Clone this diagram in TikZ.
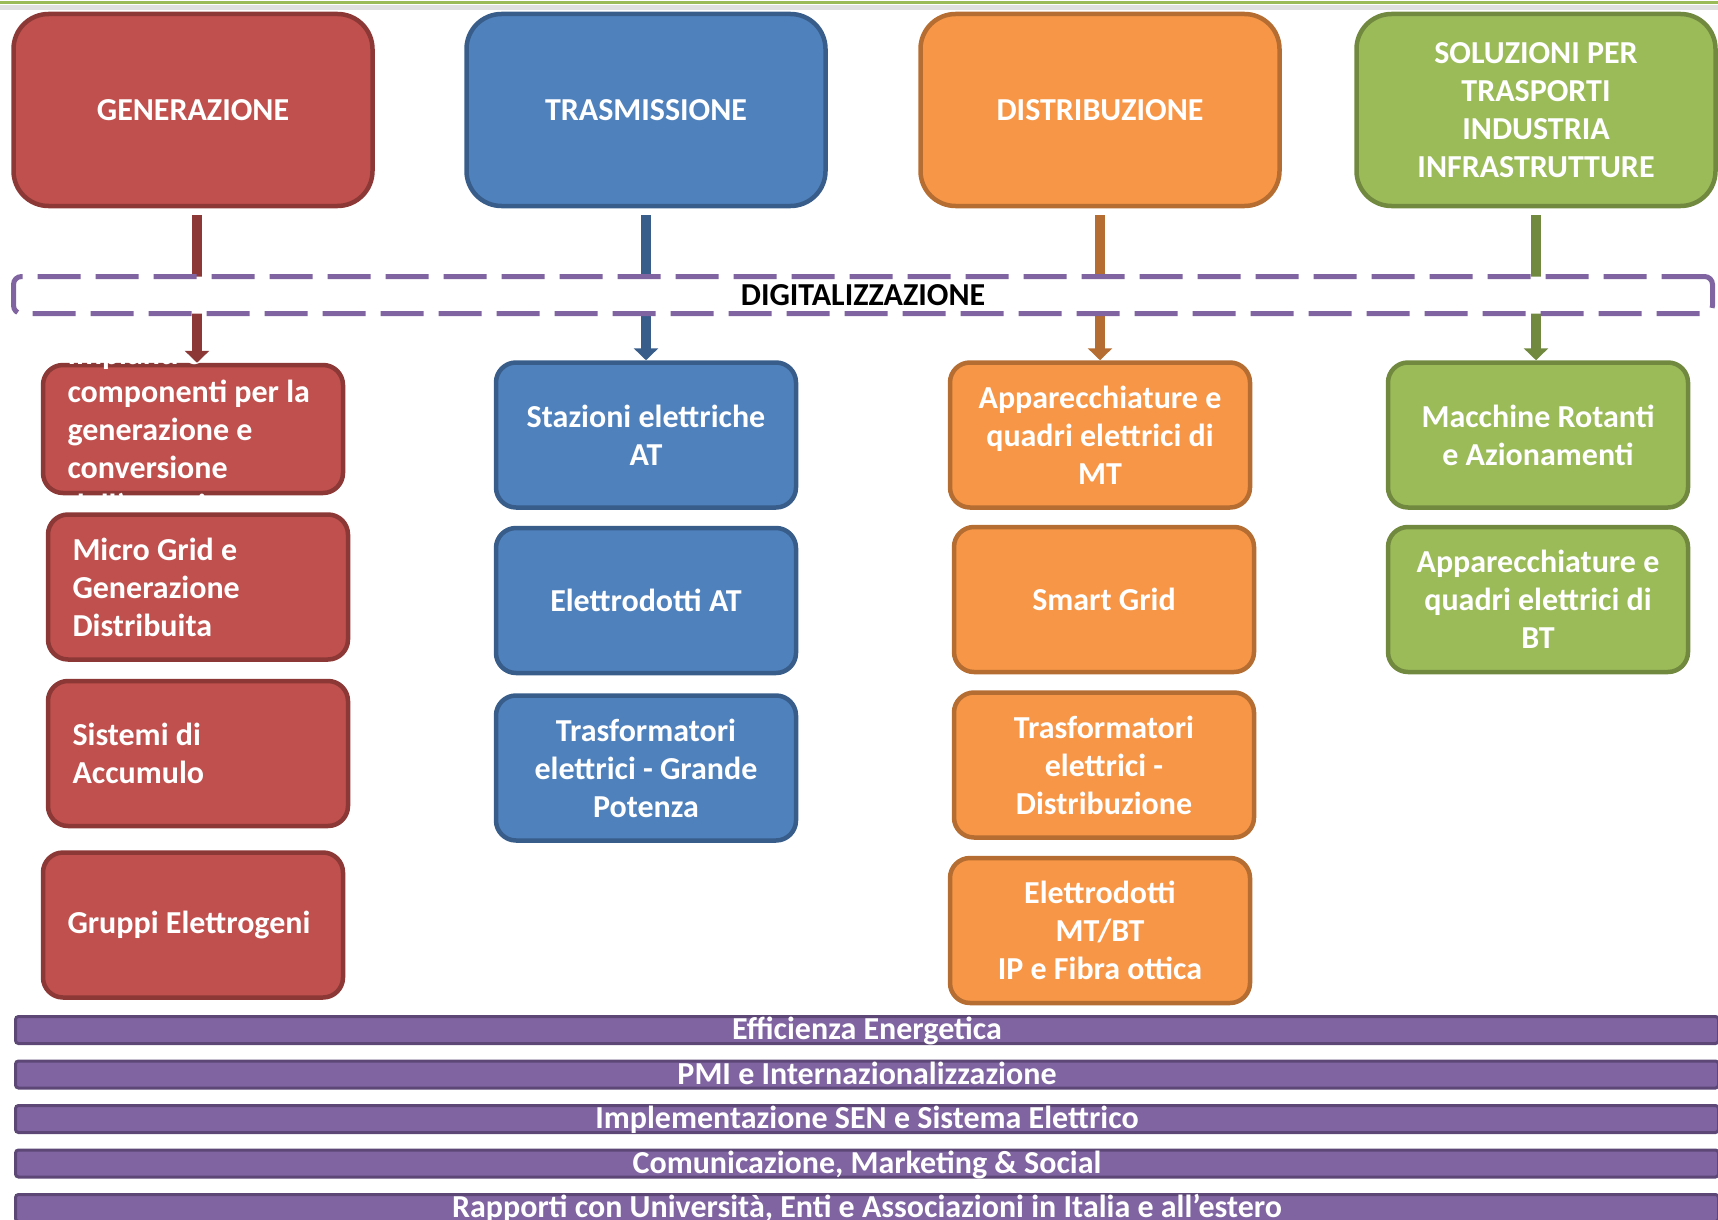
\documentclass[tikz,border=0pt]{standalone}
\usepackage{fontspec}
\setmainfont{Carlito}
\usetikzlibrary{positioning,arrows.meta}

\definecolor{genfill}{HTML}{C0504D}
\definecolor{genline}{HTML}{8C3836}
\definecolor{trafill}{HTML}{4F81BD}
\definecolor{traline}{HTML}{385D8A}
\definecolor{disfill}{HTML}{F79646}
\definecolor{disline}{HTML}{B66D31}
\definecolor{solfill}{HTML}{9BBB59}
\definecolor{solline}{HTML}{71893F}
\definecolor{viofill}{HTML}{8064A2}
\definecolor{violine}{HTML}{5C4776}

\tikzset{
  boxfont/.style={font=\bfseries\fontsize{32}{38}\selectfont},
  hdr/.style={rectangle,rounded corners=35pt,line width=4.5pt,minimum width=359pt,
    minimum height=192pt,text=white,align=center,boxfont},
  subbox/.style={rectangle,rounded corners=20pt,line width=4.5pt,minimum width=300pt,
    minimum height=145pt,text=white,align=center,boxfont},
  leftbox/.style={subbox,text width=251pt,align=flush left},
  gencol/.style={fill=genfill,draw=genline},
  tracol/.style={fill=trafill,draw=traline},
  discol/.style={fill=disfill,draw=disline},
  solcol/.style={fill=solfill,draw=solline},
  arr/.style={draw=#1,line width=10pt,-{Triangle[width=24pt,length=12pt]},shorten <=7pt},
  digibox/.style={rectangle,rounded corners=8pt,draw=viofill,line width=5pt,
    dash pattern=on 43pt off 15pt,fill=white,minimum width=1699pt,minimum height=37pt,
    text=black,boxfont},
  barbox/.style={rectangle,rounded corners=3pt,fill=viofill,draw=violine,line width=3pt,
    minimum width=1703pt,minimum height=27pt,inner sep=0pt,text height=23pt,text depth=4pt,
    text=white,font=\bfseries\fontsize{32}{36}\selectfont},
  topline/.style={draw=solfill,line width=3pt}
}

\begin{document}
\begin{tikzpicture}[x=1pt,y=-1pt]
\useasboundingbox (0,0) rectangle (1718,1220);
\draw[black!12,line width=5pt] (0,8) -- (1718,8);
\draw[topline] (0,3) -- (1718,3);

% headers
\node[hdr,gencol] (gen) at (193,110) {GENERAZIONE};
\node[hdr,tracol] (tra) at (646,110) {TRASMISSIONE};
\node[hdr,discol] (dis) at (1100,110) {DISTRIBUZIONE};
\node[hdr,solcol] (sol) at (1536,110) {SOLUZIONI PER\\TRASPORTI\\INDUSTRIA\\INFRASTRUTTURE};

% generazione
\node[leftbox,gencol,minimum height=128pt] (gen1) at (193,429) {};
\begin{scope}
\clip ([xshift=-5pt,yshift=3pt]gen1.north west) rectangle ([xshift=5pt,yshift=-3pt]gen1.south east);
\node[leftbox,draw=none,fill=none,yshift=-3pt] (gen1txt) at (gen1) {Impianti e\\componenti per la\\generazione e\\conversione\\dell’energia};
\end{scope}
\node[leftbox,gencol,below=17pt of gen1,xshift=5pt] (gen2) {Micro Grid e\\Generazione\\Distribuita};
\node[leftbox,gencol,below=17pt of gen2] (gen3) {Sistemi di\\Accumulo};
\node[leftbox,gencol,below=22pt of gen3,xshift=-5pt] (gen4) {Gruppi Elettrogeni};

% trasmissione
\node[subbox,tracol] (tra1) at (646,435) {Stazioni elettriche\\AT};
\node[subbox,tracol,below=16pt of tra1] (tra2) {Elettrodotti AT};
\node[subbox,tracol,below=18pt of tra2] (tra3) {Trasformatori\\elettrici - Grande\\Potenza};

% distribuzione
\node[subbox,discol] (dis1) at (1100,435) {Apparecchiature e\\quadri elettrici di\\MT};
\node[subbox,discol,below=15pt of dis1,xshift=4pt] (dis2) {Smart Grid};
\node[subbox,discol,below=16pt of dis2] (dis3) {Trasformatori\\elettrici -\\Distribuzione};
\node[subbox,discol,below=16pt of dis3,xshift=-4pt] (dis4) {Elettrodotti\\MT/BT\\IP e Fibra ottica};

% soluzioni
\node[subbox,solcol] (sol1) at (1538,435) {Macchine Rotanti\\e Azionamenti};
\node[subbox,solcol,below=15pt of sol1] (sol2) {Apparecchiature e\\quadri elettrici di\\BT};

\draw[arr=genline] ([xshift=4pt]gen.south) -- ([xshift=4pt]gen1.north);
\draw[arr=traline] (tra.south) -- (tra.south |- tra1.north);
\draw[arr=disline] (dis.south) -- (dis.south |- dis1.north);
\draw[arr=solline] (sol.south) -- (sol.south |- sol1.north);

\node[digibox] (digit) at (863,295) {DIGITALIZZAZIONE};

% fasce trasversali
\def\barlist{1/{Efficienza Energetica},2/{PMI e Internazionalizzazione},3/{Implementazione SEN e Sistema Elettrico},4/{Comunicazione, Marketing \& Social},5/{Rapporti con Università, Enti e Associazioni in Italia e all’estero}}
\foreach \i / \txt in \barlist
  \node[barbox] (bar\i) at (867,{1030+44.5*(\i-1)}) {\txt};

\end{tikzpicture}
\end{document}
